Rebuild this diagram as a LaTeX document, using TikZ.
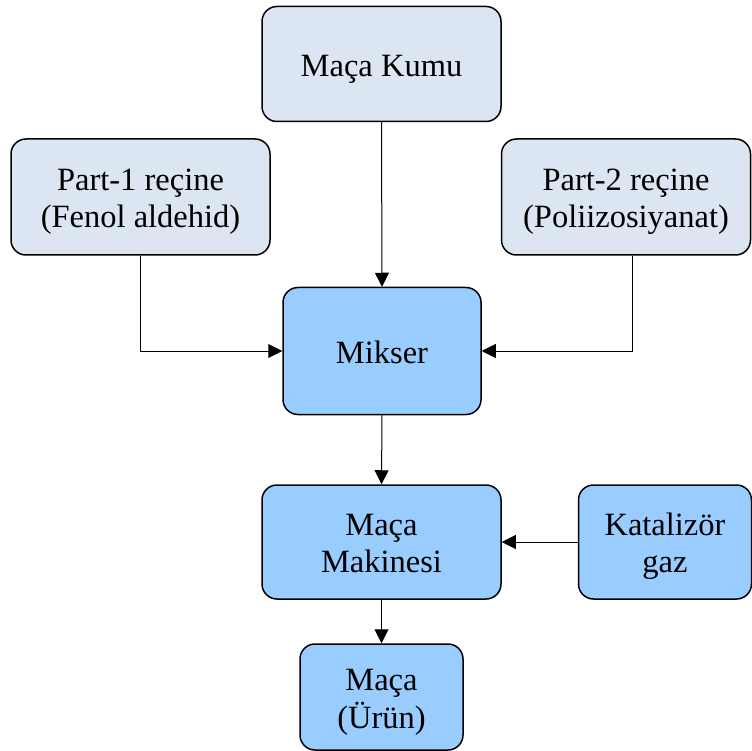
\documentclass[tikz,border=0pt]{standalone}
\usepackage{fontspec}
\setmainfont{Liberation Serif}
\usetikzlibrary{arrows.meta}
\definecolor{lightbox}{HTML}{DCE6F2}
\definecolor{procbox}{HTML}{99CCFF}
% centred lines of box text, set a little below the box centre
\newcommand{\boxtext}[1]{\raisebox{-5pt}[\height][\depth]{\begin{tabular}{@{}c@{}}#1\end{tabular}}}
\begin{document}
\begin{tikzpicture}[x=1pt,y=-1pt,
  box/.style={draw=black, line width=1.5pt, rounded corners=15pt, inner sep=0pt,
    font=\fontsize{32.5}{37}\selectfont},
  inbox/.style={box, fill=lightbox},
  procnode/.style={box, fill=procbox},
  flow/.style={line width=1pt, -{Triangle[length=14pt,width=14pt]}}]
\useasboundingbox (0,0) rectangle (752,751);

\node[inbox, minimum width=239pt, minimum height=115pt] (kumu) at (381.5,64) {\boxtext{Maça Kumu}};
\node[inbox, minimum width=259pt, minimum height=116pt] (p1) at (140.5,197) {\boxtext{Part-1 reçine\\(Fenol aldehid)}};
\node[inbox, minimum width=249pt, minimum height=116pt] (p2) at (626,197) {\boxtext{Part-2 reçine\\(Poliizosiyanat)}};
\node[procnode, minimum width=198pt, minimum height=127pt] (mikser) at (382,351) {\boxtext{Mikser}};
\node[procnode, minimum width=239pt, minimum height=114pt] (makine) at (381.5,542) {\boxtext{Maça\\Makinesi}};
\node[procnode, minimum width=173pt, minimum height=114pt] (kat) at (665,542) {\boxtext{Katalizör\\gaz}};
\node[procnode, minimum width=163pt, minimum height=106pt] (urun) at (381.5,697) {\boxtext{Maça\\(Ürün)}};

\coordinate (p2out) at ([xshift=6pt]p2.south);

\draw[flow] (kumu.south) -- (mikser.north);
\draw[flow] (p1.south) |- (mikser.west);
\draw[flow] (p2out) |- (mikser.east);
\draw[flow] (mikser.south) -- (makine.north);
\draw[flow] (kat.west) -- (makine.east);
\draw[flow] (makine.south) -- (urun.north);
\end{tikzpicture}
\end{document}
